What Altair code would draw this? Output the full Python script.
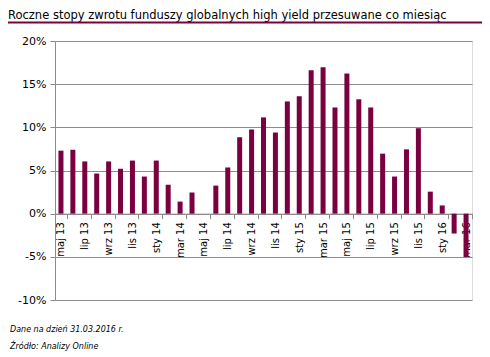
import altair as alt
import pandas as pd

title = "Roczne stopy zwrotu funduszy globalnych high yield przesuwane co miesiąc"
note1 = "Dane na dzień 31.03.2016 r."
note2 = "Źródło: Analizy Online"

months = [
    "maj 13", "cze 13", "lip 13", "sie 13", "wrz 13", "paź 13", "lis 13", "gru 13",
    "sty 14", "lut 14", "mar 14", "kwi 14", "maj 14", "cze 14", "lip 14", "sie 14",
    "wrz 14", "paź 14", "lis 14", "gru 14",
    "sty 15", "lut 15", "mar 15", "kwi 15", "maj 15", "cze 15", "lip 15", "sie 15",
    "wrz 15", "paź 15", "lis 15", "gru 15",
    "sty 16", "lut 16", "mar 16",
]
values = [
    7.3, 7.4, 6.05, 4.65, 6.05, 5.2, 6.15, 4.3,
    6.15, 3.35, 1.4, 2.45, 0.0, 3.25, 5.35, 8.85,
    9.75, 11.15, 9.4, 13.0,
    13.6, 16.6, 16.95, 12.3, 16.25, 13.25, 12.3, 6.95,
    4.3, 7.45, 9.9, 2.55,
    0.95, -2.3, -5.0,
]
tick_labels = months[::2]
y_ticks = [-10, -5, 0, 5, 10, 15, 20]

W, H = 417, 259
y_min, y_max = -10, 20
zero_offset = -(H * (0 - y_min) / (y_max - y_min))

FONT = "DejaVu Sans"
BAR = "#7a0040"
GRID = "#8c8c8c"

df = pd.DataFrame({"month": months, "value": values})

bars = alt.Chart(df).mark_bar(size=5, color=BAR).encode(
    x=alt.X("month:N", sort=months,
            scale=alt.Scale(paddingInner=0, paddingOuter=0),
            axis=alt.Axis(values=tick_labels, title=None, labelAngle=-90,
                          tickBand="extent", offset=zero_offset,
                          domainColor=GRID, tickColor=GRID, tickSize=5,
                          labelFont=FONT, labelFontSize=10, labelColor="#000",
                          labelPadding=3, grid=False)),
    y=alt.Y("value:Q",
            scale=alt.Scale(domain=[y_min, y_max], nice=False),
            axis=alt.Axis(values=y_ticks, title=None,
                          labelExpr="datum.value + '%'",
                          grid=True, gridColor=GRID, gridOpacity=1,
                          domainColor=GRID, tickColor=GRID, tickSize=5,
                          labelFont=FONT, labelFontSize=11, labelColor="#000",
                          labelPadding=4)),
)

title_t = alt.Chart(pd.DataFrame({"t": [title]})).mark_text(
    align="left", baseline="alphabetic", font=FONT, fontSize=11.5, color="#000"
).encode(text="t:N", x=alt.value(-47), y=alt.value(-22.5))

underline = alt.Chart(pd.DataFrame({"t": [0]})).mark_rule(
    color=BAR, strokeWidth=2
).encode(x=alt.value(-47), x2=alt.value(W + 10), y=alt.value(-18.5))

notes = alt.Chart(pd.DataFrame({"t": [note1, note2], "yy": [289, 306]})).mark_text(
    align="left", baseline="middle", font=FONT, fontSize=8, fontStyle="italic",
    color="#000"
).encode(text="t:N", x=alt.value(-45), y=alt.Y("yy:Q", scale=None))

chart = alt.layer(bars, title_t, underline, notes).properties(
    width=W, height=H,
    padding={"left": 47, "top": 33, "right": 10, "bottom": 58},
    autosize=alt.AutoSizeParams(type="none"),
).configure_view(stroke=None).configure(background="white")

chart.save("out.html", embed_options={"renderer": "svg", "actions": False})
